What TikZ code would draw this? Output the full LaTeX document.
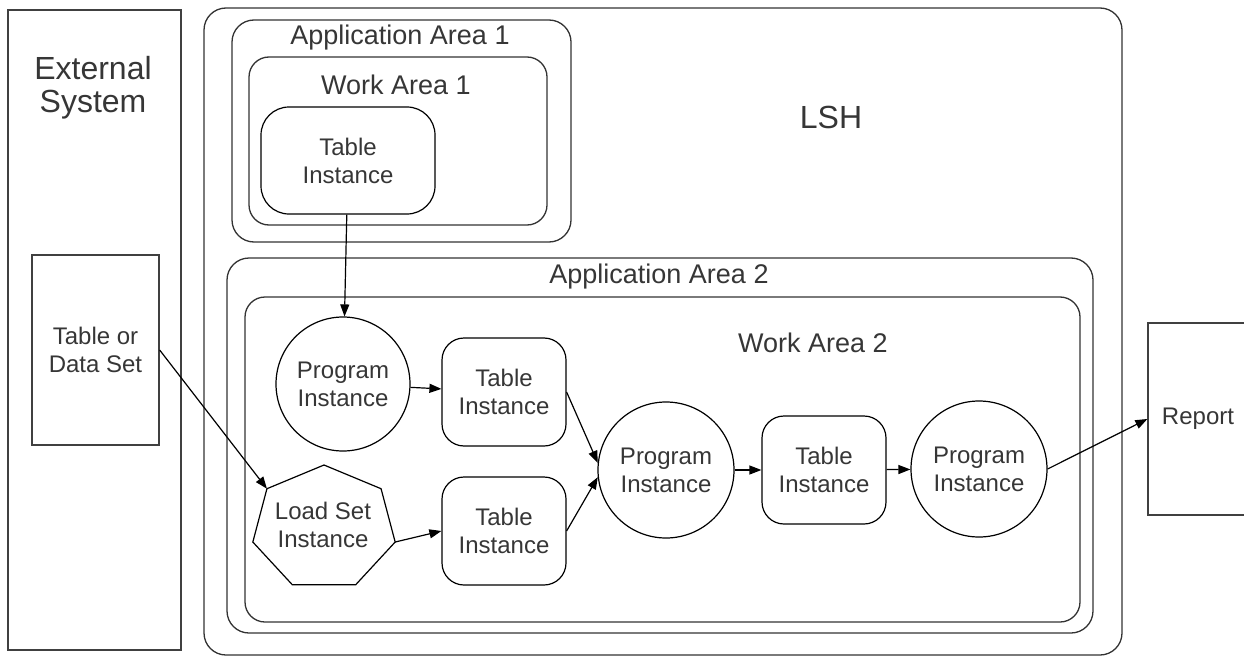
\documentclass[tikz,border=0pt]{standalone}
\usepackage{fontspec}
\setmainfont{Liberation Sans}
\usetikzlibrary{arrows.meta, shapes.geometric, positioning, calc}
\definecolor{inkgray}{HTML}{363636}

\tikzset{
  every node/.style={text=inkgray},
  area/.style={draw=black!80, line width=1.3pt, rounded corners=22pt},
  plainbox/.style={draw=black!75, line width=1.3pt},
  tabinst/.style={draw, line width=1.2pt, rounded corners=22pt, minimum width=124pt, minimum height=108pt, align=center, font=\fontsize{24}{28}\selectfont},
  proginst/.style={draw, circle, line width=1.2pt, minimum size=136pt, inner sep=0pt, align=center, font=\fontsize{24}{28}\selectfont},
  loadinst/.style={inner sep=0pt, align=center, font=\fontsize{24}{28}\selectfont},
  arealbl/.style={font=\fontsize{27}{30}\selectfont},
  biglbl/.style={font=\fontsize{32}{33}\selectfont, align=center}
}

\begin{document}
\begin{tikzpicture}[x=1pt, y=-1pt, >={Triangle[length=12pt,width=9pt]}]
  \clip (0,0) rectangle (1244,658);

  % external side
  \draw[plainbox] (8,10) rectangle (181,650);
  \node (extlbl) [biglbl] at (93,88) {External\\System};
  \node (data) [plainbox, minimum width=127pt, minimum height=190pt, align=center, font=\fontsize{24}{28}\selectfont] at (95.5,350) {Table or\\Data Set};

  % LSH and its areas
  \draw[area] (204,8) rectangle (1122,655);
  \node (lshlbl) [biglbl] at (831,117) {LSH};

  \draw[area] (232,20) rectangle (571,242);
  \node (app1lbl) [arealbl] at (400,38) {Application Area 1};
  \draw[area, rounded corners=20pt] (249,57) rectangle (547,225);
  \node (work1lbl) [arealbl] at (396,85) {Work Area 1};
  \node (tab1) [tabinst, rounded corners=28pt, minimum width=174pt, minimum height=107pt] at (348,160.5) {Table\\Instance};

  \draw[area] (227,258) rectangle (1093,633);
  \node (app2lbl) [arealbl] at (659,277) {Application Area 2};
  \draw[area, rounded corners=20pt] (245,297) rectangle (1080,622);
  \node (work2lbl) [arealbl] at (813,343) {Work Area 2};

  \node (prog1) [proginst, minimum size=134pt] at (343,384) {Program\\Instance};

  % load set: a squat heptagon round its text
  \node (load) [loadinst] at (323,525) {Load Set\\Instance};
  \draw[line width=1.2pt, shift={(324,528)}]
    (-90:73 and 63) -- (-141.43:73 and 63) -- (-192.86:73 and 63) -- (-244.29:73 and 63)
    -- (-295.71:73 and 63) -- (-347.14:73 and 63) -- (-38.57:73 and 63) -- cycle;
  \coordinate (loadnw) at ($(324,528)+(-141.43:73 and 63)$);
  \coordinate (loade) at ($(324,528)+(-347.14:73 and 63)$);

  \node (tab2) [tabinst] at (504,392) {Table\\Instance};
  \node (tab3) [tabinst] at (504,531) {Table\\Instance};
  \node (prog2) [proginst] at (666,470) {Program\\Instance};
  \node (tab4) [tabinst] at (824,470) {Table\\Instance};
  \node (prog3) [proginst] at (979,469) {Program\\Instance};

  \node (report) [plainbox, minimum width=100pt, minimum height=192pt, font=\fontsize{24}{28}\selectfont] at (1198,419) {Report};

  % data flow
  \draw[->, line width=1.2pt] (tab1) -- (prog1);
  \draw[->, line width=1.2pt] (data.east) -- (loadnw);
  \draw[->, line width=1.2pt] (prog1) -- (tab2);
  \draw[->, line width=1.2pt] (loade) -- (tab3.west);
  \draw[->, line width=1.2pt] (tab2.east) -- (prog2.174);
  \draw[->, line width=1.2pt] (tab3.east) -- (prog2.186);
  \draw[->, line width=1.2pt] (prog2) -- (tab4);
  \draw[->, line width=1.2pt] (tab4) -- (prog3);
  \draw[->, line width=1.2pt] (prog3.east) -- (report.west);
\end{tikzpicture}
\end{document}
